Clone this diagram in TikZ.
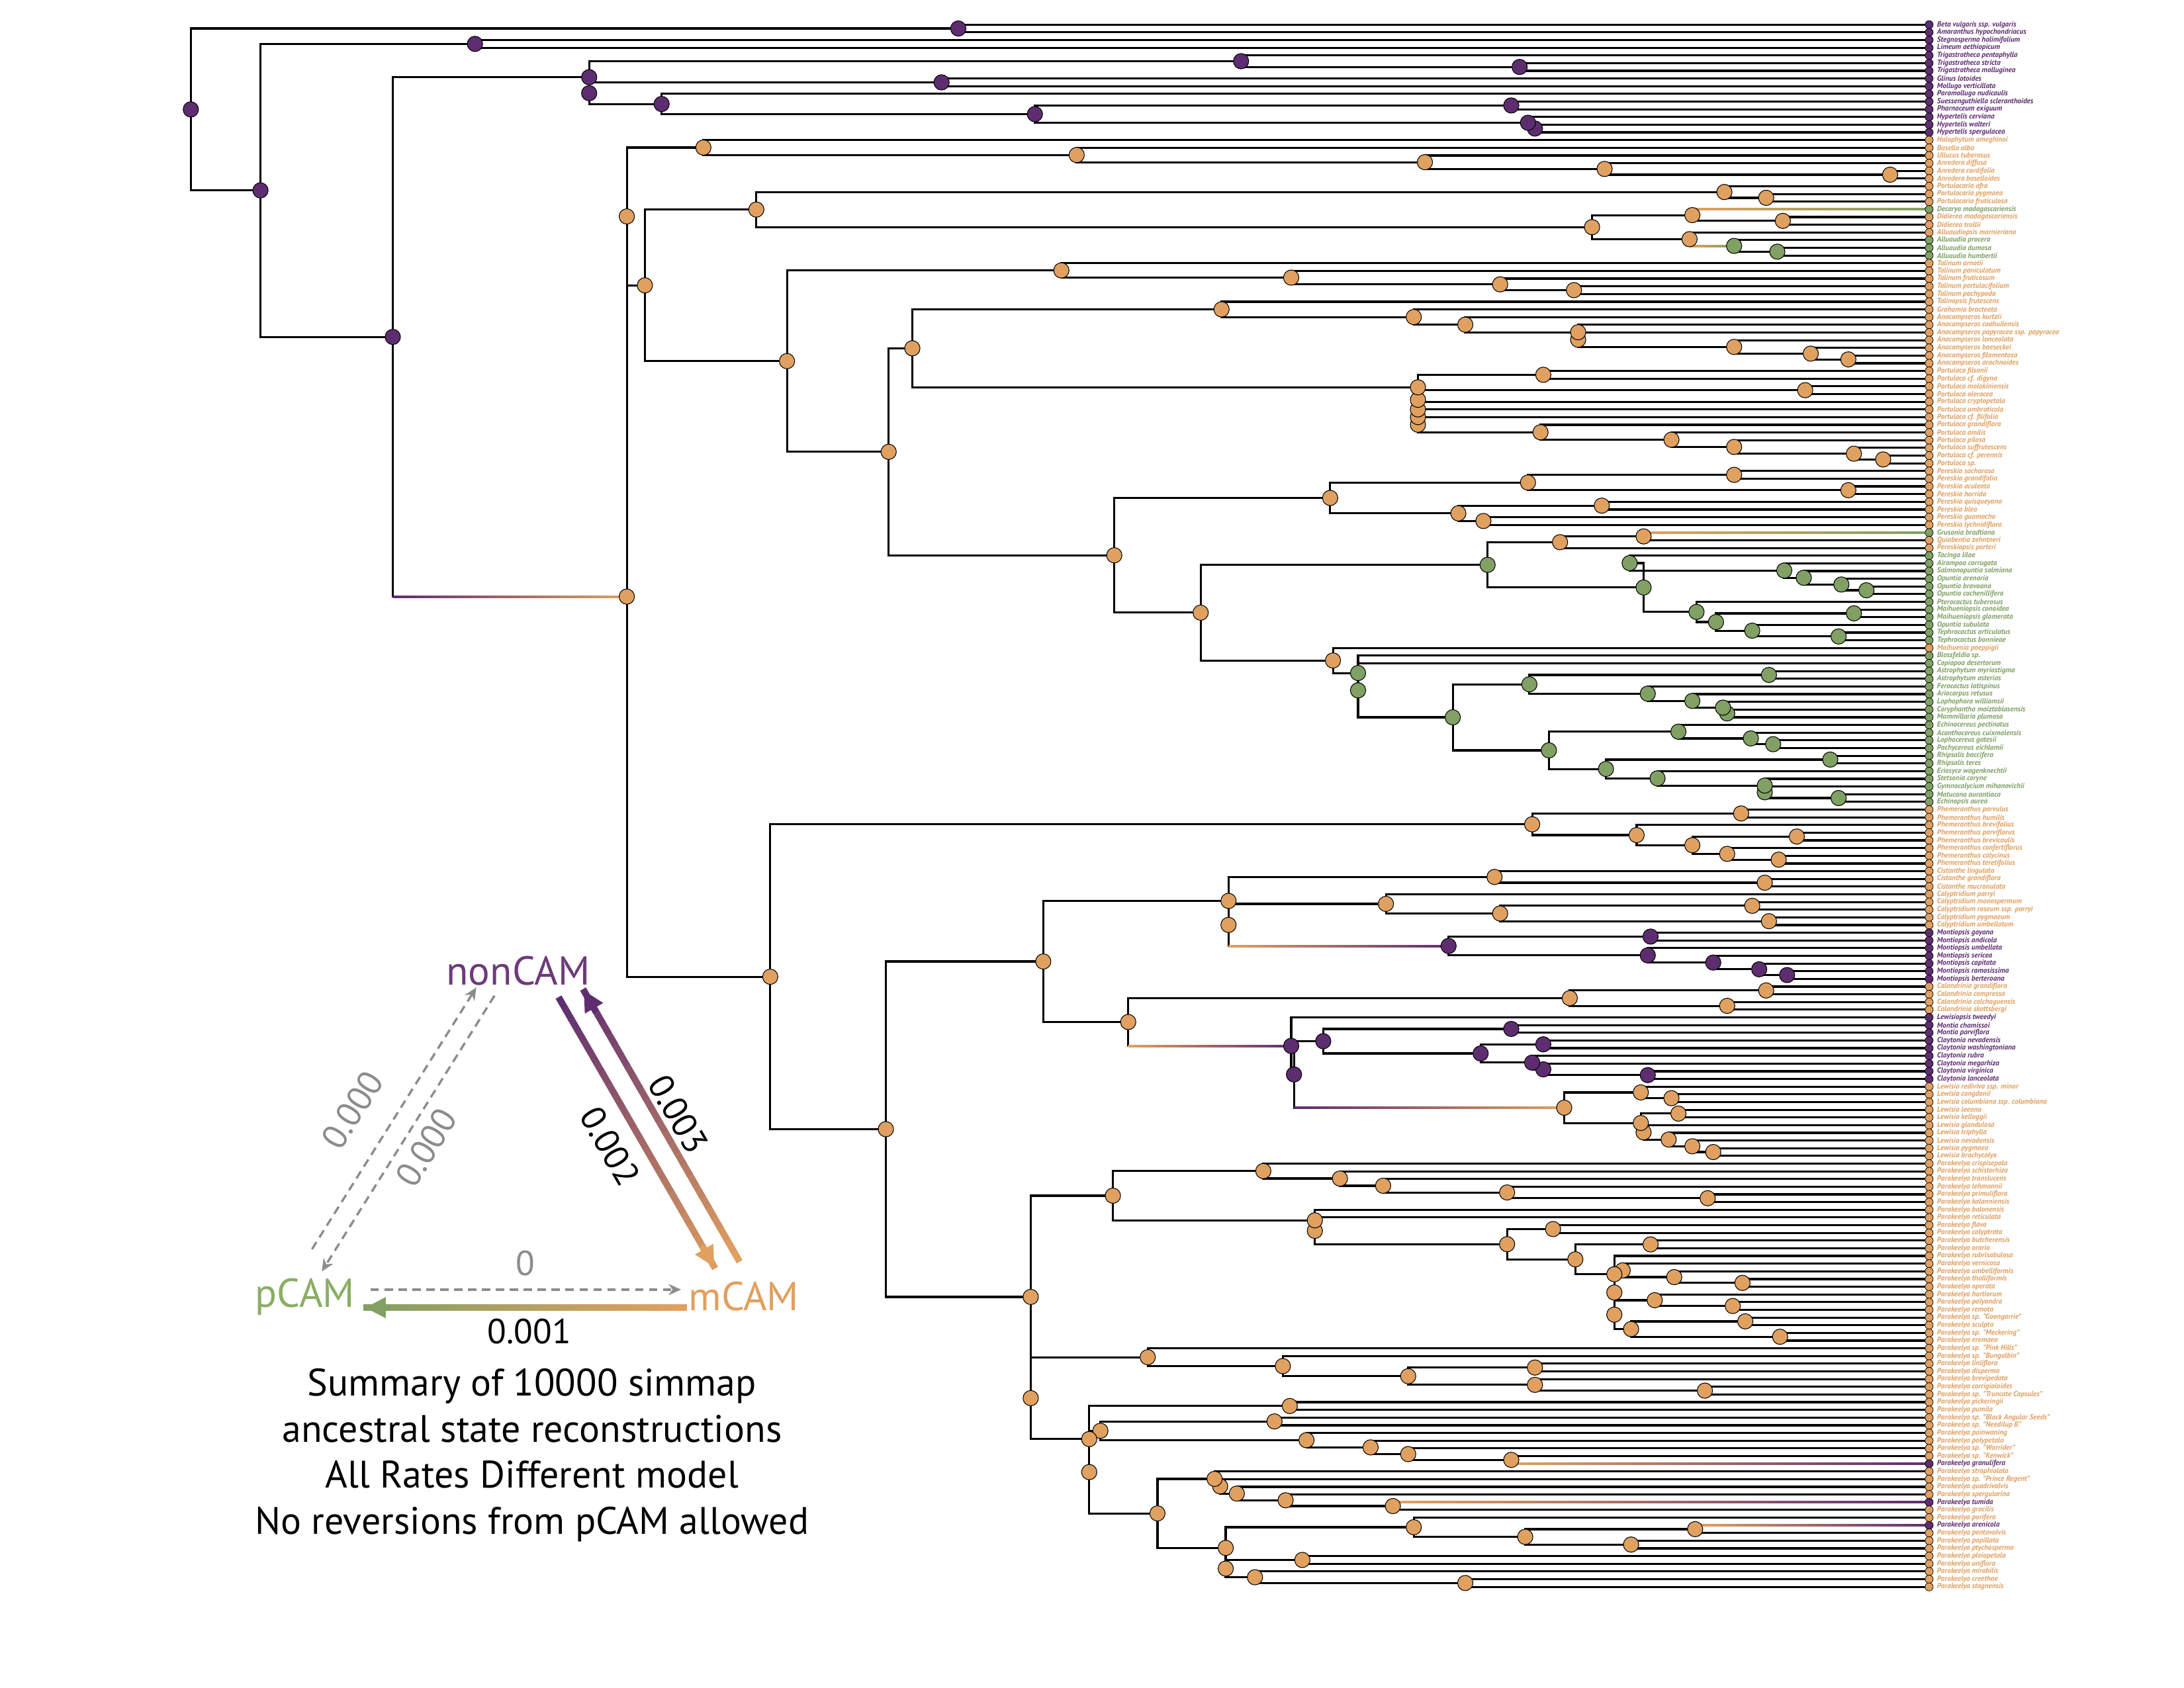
\documentclass[tikz,border=0pt]{standalone}
\usepackage{fontspec}
\setmainfont{PT Sans}
\usetikzlibrary{calc,arrows.meta}
\definecolor{cP}{HTML}{5E2D70}
\definecolor{cO}{HTML}{E0A060}
\definecolor{cG}{HTML}{80A064}
\definecolor{lnon}{HTML}{6E3A7A}
\definecolor{lp}{HTML}{8AAE64}
\definecolor{lm}{HTML}{E0A060}
\definecolor{dgray}{HTML}{8C8C8C}
\tikzset{
  br/.style={line width=1.5pt,black,line cap=rect},
  ndot/.style={circle,draw=black,line width=0.5pt,inner sep=0pt,minimum size=11pt},
  tdot/.style={circle,draw=black,line width=0.35pt,inner sep=0pt,minimum size=5.8pt},
  tiplab/.style={anchor=west,inner sep=0pt,font=\fontsize{5.3}{5.4}\selectfont\bfseries\itshape},
  leg/.style={font=\fontsize{29}{30}\selectfont},
  num/.style={font=\fontsize{25}{26}\selectfont},
  dsh/.style={dgray,line width=1.6pt,dash pattern=on 6pt off 4pt,-{Stealth[length=9pt,width=8pt]}},
}
\newcommand\dotlist{}
\newcommand\AddDot[1]{\expandafter\gdef\expandafter\dotlist\expandafter{\dotlist #1}}
\newcommand\Tip[3]{%
  \coordinate (t#1) at (1385,{17.7+5.526*(#1-1)});
  \node[tiplab,text=#2] at (1390.5,{17.7+5.526*(#1-1)}) {#3};
  \AddDot{\node[tdot,fill=#2] at (t#1) {};}}
\newcommand\Nd[5]{%
  \path let \p1=($(#3)!0.5!(#4)$) in coordinate (#1) at (#2pt,\y1);
  \draw[br] (#3 -| #1) -- (#3);
  \draw[br] (#4 -| #1) -- (#4);
  \draw[br] (#3 -| #1) -- (#4 -| #1);
  \AddDot{\node[ndot,fill=#5] at (#1) {};}}
\newcommand\Cb[4]{%
  \shade[left color=#3,right color=#4] let \p1=(#1), \p2=(#2) in (\x1,{\y2-0.75pt}) rectangle (\x2,{\y2+0.75pt});}
\newcommand\Grad[5]{%
  \foreach \i in {0,...,24}{%
    \pgfmathsetmacro\pa{\i/25}\pgfmathsetmacro\pb{(\i+1)/25+0.004}\pgfmathtruncatemacro\pc{100-4*\i}%
    \draw[line width=#5,color=#3!\pc!#4] ($(#1)!\pa!(#2)$) -- ($(#1)!\pb!(#2)$);}
  \draw[line width=#5,color=#4,-{Triangle[length=15pt,width=14pt]}] ($(#1)!0.92!(#2)$) -- (#2);}
\begin{document}
\begin{tikzpicture}[x=1pt,y=-1pt]
\useasboundingbox (0,0) rectangle (1568,1212);
\fill[white] (0,0) rectangle (1568,1212);
% ---------------- tips
\Tip{1}{cP}{Beta vulgaris ssp. vulgaris}
\Tip{2}{cP}{Amaranthus hypochondriacus}
\Tip{3}{cP}{Stegnosperma halimifolium}
\Tip{4}{cP}{Limeum aethiopicum}
\Tip{5}{cP}{Trigastrotheca pentaphylla}
\Tip{6}{cP}{Trigastrotheca stricta}
\Tip{7}{cP}{Trigastrotheca molluginea}
\Tip{8}{cP}{Glinus lotoides}
\Tip{9}{cP}{Mollugo verticillata}
\Tip{10}{cP}{Paramollugo nudicaulis}
\Tip{11}{cP}{Suessenguthiella scleranthoides}
\Tip{12}{cP}{Pharnaceum exiguum}
\Tip{13}{cP}{Hypertelis cerviana}
\Tip{14}{cP}{Hypertelis walteri}
\Tip{15}{cP}{Hypertelis spergulacea}
\Tip{16}{cO}{Halophytum ameghinoi}
\Tip{17}{cO}{Basella alba}
\Tip{18}{cO}{Ullucus tuberosus}
\Tip{19}{cO}{Anredera diffusa}
\Tip{20}{cO}{Anredera cordifolia}
\Tip{21}{cO}{Anredera baselloides}
\Tip{22}{cO}{Portulacaria afra}
\Tip{23}{cO}{Portulacaria pygmaea}
\Tip{24}{cO}{Portulacaria fruticulosa}
\Tip{25}{cG}{Decarya madagascariensis}
\Tip{26}{cO}{Didierea madagascariensis}
\Tip{27}{cO}{Didierea trollii}
\Tip{28}{cO}{Alluaudiopsis marnieriana}
\Tip{29}{cG}{Alluaudia procera}
\Tip{30}{cG}{Alluaudia dumosa}
\Tip{31}{cG}{Alluaudia humbertii}
\Tip{32}{cO}{Talinum arnotii}
\Tip{33}{cO}{Talinum paniculatum}
\Tip{34}{cO}{Talinum fruticosum}
\Tip{35}{cO}{Talinum portulacifolium}
\Tip{36}{cO}{Talinum pachypoda}
\Tip{37}{cO}{Talinopsis frutescens}
\Tip{38}{cO}{Grahamia bracteata}
\Tip{39}{cO}{Anacampseros kurtzii}
\Tip{40}{cO}{Anacampseros coahuilensis}
\Tip{41}{cO}{Anacampseros papyracea ssp. papyracea}
\Tip{42}{cO}{Anacampseros lanceolata}
\Tip{43}{cO}{Anacampseros baeseckei}
\Tip{44}{cO}{Anacampseros filamentosa}
\Tip{45}{cO}{Anacampseros arachnoides}
\Tip{46}{cO}{Portulaca filsonii}
\Tip{47}{cO}{Portulaca cf. digyna}
\Tip{48}{cO}{Portulaca molokiniensis}
\Tip{49}{cO}{Portulaca oleracea}
\Tip{50}{cO}{Portulaca cryptopetala}
\Tip{51}{cO}{Portulaca umbraticola}
\Tip{52}{cO}{Portulaca cf. filifolia}
\Tip{53}{cO}{Portulaca grandiflora}
\Tip{54}{cO}{Portulaca amilis}
\Tip{55}{cO}{Portulaca pilosa}
\Tip{56}{cO}{Portulaca suffrutescens}
\Tip{57}{cO}{Portulaca cf. perennis}
\Tip{58}{cO}{Portulaca sp.}
\Tip{59}{cO}{Pereskia sacharosa}
\Tip{60}{cO}{Pereskia grandifolia}
\Tip{61}{cO}{Pereskia aculeata}
\Tip{62}{cO}{Pereskia horrida}
\Tip{63}{cO}{Pereskia quisqueyana}
\Tip{64}{cO}{Pereskia bleo}
\Tip{65}{cO}{Pereskia guamacho}
\Tip{66}{cO}{Pereskia lychnidiflora}
\Tip{67}{cG}{Grusonia bradtiana}
\Tip{68}{cO}{Quiabentia zehntneri}
\Tip{69}{cO}{Pereskiopsis porteri}
\Tip{70}{cG}{Tacinga lilae}
\Tip{71}{cG}{Airampoa corrugata}
\Tip{72}{cG}{Salmonopuntia salmiana}
\Tip{73}{cG}{Opuntia arenaria}
\Tip{74}{cG}{Opuntia bravoana}
\Tip{75}{cG}{Opuntia cochenillifera}
\Tip{76}{cG}{Pterocactus tuberosus}
\Tip{77}{cG}{Maihueniopsis conoidea}
\Tip{78}{cG}{Maihueniopsis glomerata}
\Tip{79}{cG}{Opuntia subulata}
\Tip{80}{cG}{Tephrocactus articulatus}
\Tip{81}{cG}{Tephrocactus bonnieae}
\Tip{82}{cO}{Maihuenia poeppigii}
\Tip{83}{cG}{Blossfeldia sp.}
\Tip{84}{cG}{Copiapoa desertorum}
\Tip{85}{cG}{Astrophytum myriostigma}
\Tip{86}{cG}{Astrophytum asterias}
\Tip{87}{cG}{Ferocactus latispinus}
\Tip{88}{cG}{Ariocarpus retusus}
\Tip{89}{cG}{Lophophora williamsii}
\Tip{90}{cG}{Coryphantha maiztablasensis}
\Tip{91}{cG}{Mammillaria plumosa}
\Tip{92}{cG}{Echinocereus pectinatus}
\Tip{93}{cG}{Acanthocereus cuixmalensis}
\Tip{94}{cG}{Lophocereus gatesii}
\Tip{95}{cG}{Pachycereus eichlamii}
\Tip{96}{cG}{Rhipsalis baccifera}
\Tip{97}{cG}{Rhipsalis teres}
\Tip{98}{cG}{Eriosyce wagenknechtii}
\Tip{99}{cG}{Stetsonia coryne}
\Tip{100}{cG}{Gymnocalycium mihanovichii}
\Tip{101}{cG}{Matucana aurantiaca}
\Tip{102}{cG}{Echinopsis aurea}
\Tip{103}{cO}{Phemeranthus parvulus}
\Tip{104}{cO}{Phemeranthus humilis}
\Tip{105}{cO}{Phemeranthus brevifolius}
\Tip{106}{cO}{Phemeranthus parviflorus}
\Tip{107}{cO}{Phemeranthus brevicaulis}
\Tip{108}{cO}{Phemeranthus confertiflorus}
\Tip{109}{cO}{Phemeranthus calycinus}
\Tip{110}{cO}{Phemeranthus teretifolius}
\Tip{111}{cO}{Cistanthe lingulata}
\Tip{112}{cO}{Cistanthe grandiflora}
\Tip{113}{cO}{Cistanthe mucronulata}
\Tip{114}{cO}{Calyptridium parryi}
\Tip{115}{cO}{Calyptridium monospermum}
\Tip{116}{cO}{Calyptridium roseum ssp. parryi}
\Tip{117}{cO}{Calyptridium pygmaeum}
\Tip{118}{cO}{Calyptridium umbellatum}
\Tip{119}{cP}{Montiopsis gayana}
\Tip{120}{cP}{Montiopsis andicola}
\Tip{121}{cP}{Montiopsis umbellata}
\Tip{122}{cP}{Montiopsis sericea}
\Tip{123}{cP}{Montiopsis capitata}
\Tip{124}{cP}{Montiopsis ramosissima}
\Tip{125}{cP}{Montiopsis berteroana}
\Tip{126}{cO}{Calandrinia grandiflora}
\Tip{127}{cO}{Calandrinia compressa}
\Tip{128}{cO}{Calandrinia colchaguensis}
\Tip{129}{cO}{Calandrinia skottsbergi}
\Tip{130}{cP}{Lewisiopsis tweedyi}
\Tip{131}{cP}{Montia chamissoi}
\Tip{132}{cP}{Montia parviflora}
\Tip{133}{cP}{Claytonia nevadensis}
\Tip{134}{cP}{Claytonia washingtoniana}
\Tip{135}{cP}{Claytonia rubra}
\Tip{136}{cP}{Claytonia megarhiza}
\Tip{137}{cP}{Claytonia virginica}
\Tip{138}{cP}{Claytonia lanceolata}
\Tip{139}{cO}{Lewisia rediviva ssp. minor}
\Tip{140}{cO}{Lewisia congdonii}
\Tip{141}{cO}{Lewisia columbiana ssp. columbiana}
\Tip{142}{cO}{Lewisia leeana}
\Tip{143}{cO}{Lewisia kelloggii}
\Tip{144}{cO}{Lewisia glandulosa}
\Tip{145}{cO}{Lewisia triphylla}
\Tip{146}{cO}{Lewisia nevadensis}
\Tip{147}{cO}{Lewisia pygmaea}
\Tip{148}{cO}{Lewisia brachycalyx}
\Tip{149}{cO}{Parakeelya crispisepala}
\Tip{150}{cO}{Parakeelya schistorhiza}
\Tip{151}{cO}{Parakeelya translucens}
\Tip{152}{cO}{Parakeelya lehmannii}
\Tip{153}{cO}{Parakeelya primuliflora}
\Tip{154}{cO}{Parakeelya kalanniensis}
\Tip{155}{cO}{Parakeelya balonensis}
\Tip{156}{cO}{Parakeelya reticulata}
\Tip{157}{cO}{Parakeelya flava}
\Tip{158}{cO}{Parakeelya calyptrata}
\Tip{159}{cO}{Parakeelya butcherensis}
\Tip{160}{cO}{Parakeelya oraria}
\Tip{161}{cO}{Parakeelya rubrisabulosa}
\Tip{162}{cO}{Parakeelya vernicosa}
\Tip{163}{cO}{Parakeelya umbelliformis}
\Tip{164}{cO}{Parakeelya tholliformis}
\Tip{165}{cO}{Parakeelya operata}
\Tip{166}{cO}{Parakeelya hortiorum}
\Tip{167}{cO}{Parakeelya polyandra}
\Tip{168}{cO}{Parakeelya remota}
\Tip{169}{cO}{Parakeelya sp. "Goongarrie"}
\Tip{170}{cO}{Parakeelya sculpta}
\Tip{171}{cO}{Parakeelya sp. "Meckering"}
\Tip{172}{cO}{Parakeelya eremaea}
\Tip{173}{cO}{Parakeelya sp. "Pink Hills"}
\Tip{174}{cO}{Parakeelya sp. "Bungalbin"}
\Tip{175}{cO}{Parakeelya linliflora}
\Tip{176}{cO}{Parakeelya disperma}
\Tip{177}{cO}{Parakeelya brevipedata}
\Tip{178}{cO}{Parakeelya corrigioloides}
\Tip{179}{cO}{Parakeelya sp. "Truncate Capsules"}
\Tip{180}{cO}{Parakeelya pickeringii}
\Tip{181}{cO}{Parakeelya pumila}
\Tip{182}{cO}{Parakeelya sp. "Black Angular Seeds"}
\Tip{183}{cO}{Parakeelya sp. "Needilup B"}
\Tip{184}{cO}{Parakeelya painwaning}
\Tip{185}{cO}{Parakeelya polypetala}
\Tip{186}{cO}{Parakeelya sp. "Warrider"}
\Tip{187}{cO}{Parakeelya sp. "Kenwick"}
\Tip{188}{cP}{Parakeelya granulifera}
\Tip{189}{cO}{Parakeelya strophiolata}
\Tip{190}{cO}{Parakeelya sp. "Prince Regent"}
\Tip{191}{cO}{Parakeelya quadrivalvis}
\Tip{192}{cO}{Parakeelya spergularina}
\Tip{193}{cP}{Parakeelya tumida}
\Tip{194}{cO}{Parakeelya gracilis}
\Tip{195}{cO}{Parakeelya porifera}
\Tip{196}{cP}{Parakeelya arenicola}
\Tip{197}{cO}{Parakeelya pentavalvis}
\Tip{198}{cO}{Parakeelya papillata}
\Tip{199}{cO}{Parakeelya ptychosperma}
\Tip{200}{cO}{Parakeelya pleiopetala}
\Tip{201}{cO}{Parakeelya uniflora}
\Tip{202}{cO}{Parakeelya mirabilis}
\Tip{203}{cO}{Parakeelya creethae}
\Tip{204}{cO}{Parakeelya stagnensis}
% ---------------- outgroups
\Nd{nbeta}{688}{t1}{t2}{cP}
\Nd{nsteg}{341}{t3}{t4}{cP}
\Nd{ntrigB}{1091}{t6}{t7}{cP}
\Nd{ntrig}{891}{t5}{ntrigB}{cP}
\Nd{nglin}{676}{t8}{t9}{cP}
\Nd{nsp}{1085}{t11}{t12}{cP}
\Nd{nhypB}{1102}{t14}{t15}{cP}
\Nd{nhyp}{1097}{t13}{nhypB}{cP}
\Nd{nph}{743}{nsp}{nhyp}{cP}
\Nd{npm}{475}{t10}{nph}{cP}
\Nd{nmoB}{423}{nglin}{npm}{cP}
\Nd{nmo}{423}{ntrig}{nmoB}{cP}
% ---------------- Portulacineae upper
\Nd{bas4}{1357}{t20}{t21}{cO}
\Nd{bas3}{1152}{t19}{bas4}{cO}
\Nd{bas2}{1023}{t18}{bas3}{cO}
\Nd{bas}{773}{t17}{bas2}{cO}
\Nd{halo}{505}{t16}{bas}{cO}
\Nd{pcB}{1268}{t23}{t24}{cO}
\Nd{pca}{1238}{t22}{pcB}{cO}
\Nd{didB}{1280}{t26}{t27}{cO}
\Nd{dec}{1215}{t25}{didB}{cO}
\Nd{allB}{1276}{t30}{t31}{cG}
\Nd{all}{1245}{t29}{allB}{cG}
\Nd{alop}{1213}{t28}{all}{cO}
\Nd{did}{1143}{dec}{alop}{cO}
\Nd{pd}{543}{pca}{did}{cO}
\Nd{talD}{1130}{t35}{t36}{cO}
\Nd{talC}{1077}{t34}{talD}{cO}
\Nd{talB}{927}{t33}{talC}{cO}
\Nd{tal}{762}{t32}{talB}{cO}
\Nd{an6}{1327}{t44}{t45}{cO}
\Nd{an5}{1300}{t43}{an6}{cO}
\Nd{an4}{1245}{t42}{an5}{cO}
\Nd{an3}{1133}{t41}{an4}{cO}
\Nd{an2}{1133}{t40}{an3}{cO}
\Nd{an1}{1052}{t39}{an2}{cO}
\Nd{gra}{1015}{t38}{an1}{cO}
\Nd{ana}{877}{t37}{gra}{cO}
\Nd{p1}{1108}{t46}{t47}{cO}
\Nd{p2}{1296}{t48}{t49}{cO}
\Nd{pper}{1352}{t57}{t58}{cO}
\Nd{psuf}{1331}{t56}{pper}{cO}
\Nd{ppil}{1245}{t55}{psuf}{cO}
\Nd{pam}{1200}{t54}{ppil}{cO}
\Nd{pgr}{1106}{t53}{pam}{cO}
\Nd{pfil}{1018}{t52}{pgr}{cO}
\Nd{pumb}{1018}{t51}{pfil}{cO}
\Nd{pcry}{1018}{t50}{pumb}{cO}
\Nd{px}{1018}{p2}{pcry}{cO}
\Nd{proot}{1018}{p1}{px}{cO}
\Nd{nap}{655}{ana}{proot}{cO}
% cacti
\Nd{c1}{1245}{t59}{t60}{cO}
\Nd{c2}{1327}{t61}{t62}{cO}
\Nd{c3}{1097}{c1}{c2}{cO}
\Nd{c4}{1150}{t63}{t64}{cO}
\Nd{c5}{1065}{t65}{t66}{cO}
\Nd{c6}{1047}{c4}{c5}{cO}
\Nd{c7}{955}{c3}{c6}{cO}
\Nd{ocyl}{1180}{t67}{t68}{cO}
\Nd{ocylB}{1120}{ocyl}{t69}{cO}
\Nd{op1}{1340}{t74}{t75}{cG}
\Nd{op2}{1322}{t73}{op1}{cG}
\Nd{op3}{1295}{t72}{op2}{cG}
\Nd{op4}{1281}{t71}{op3}{cG}
\Nd{op5}{1170}{t70}{op4}{cG}
\Nd{te1}{1331}{t77}{t78}{cG}
\Nd{te2}{1320}{t80}{t81}{cG}
\Nd{te3}{1258}{t79}{te2}{cG}
\Nd{te4}{1232}{te1}{te3}{cG}
\Nd{te5}{1218}{t76}{te4}{cG}
\Nd{opte}{1180}{op5}{te5}{cG}
\Nd{opu}{1068}{ocylB}{opte}{cG}
\Nd{ca1}{1270}{t85}{t86}{cG}
\Nd{ca3}{1240}{t90}{t91}{cG}
\Nd{ca2}{1237}{t89}{ca3}{cG}
\Nd{ca4}{1215}{t88}{ca2}{cG}
\Nd{ca5}{1183}{t87}{ca4}{cG}
\Nd{ca6}{1098}{ca1}{ca5}{cG}
\Nd{b1}{1273}{t94}{t95}{cG}
\Nd{b2}{1257}{t93}{b1}{cG}
\Nd{b3}{1205}{t92}{b2}{cG}
\Nd{b4}{1314}{t96}{t97}{cG}
\Nd{b5}{1320}{t101}{t102}{cG}
\Nd{b6}{1267}{t100}{b5}{cG}
\Nd{b7}{1267}{t99}{b6}{cG}
\Nd{b8}{1190}{t98}{b7}{cG}
\Nd{b9}{1153}{b4}{b8}{cG}
\Nd{b10}{1112}{b3}{b9}{cG}
\Nd{cR2}{1043}{ca6}{b10}{cG}
\Nd{cR}{975}{t84}{cR2}{cG}
\Nd{cC}{975}{t83}{cR}{cG}
\Nd{Mh}{957}{t82}{cC}{cO}
\Nd{cB}{862}{opu}{Mh}{cO}
\Nd{cA}{800}{c7}{cB}{cO}
\Nd{nPC}{638}{nap}{cA}{cO}
\Nd{nTP}{565}{tal}{nPC}{cO}
\Nd{nDT}{463}{pd}{nTP}{cO}
\Nd{nUp}{450}{halo}{nDT}{cO}
% ---------------- lower half
\Nd{ph0}{1250}{t103}{t104}{cO}
\Nd{ph1}{1290}{t106}{t107}{cO}
\Nd{ph2}{1277}{t109}{t110}{cO}
\Nd{ph3}{1240}{t108}{ph2}{cO}
\Nd{ph4}{1215}{ph1}{ph3}{cO}
\Nd{ph5}{1175}{t105}{ph4}{cO}
\Nd{ph7}{1100}{ph0}{ph5}{cO}
\Nd{ci1}{1267}{t112}{t113}{cO}
\Nd{ci2}{1073}{t111}{ci1}{cO}
\Nd{cy1}{1258}{t115}{t116}{cO}
\Nd{cy2}{1270}{t117}{t118}{cO}
\Nd{cy3}{1077}{cy1}{cy2}{cO}
\Nd{cy4}{995}{t114}{cy3}{cO}
\Nd{mo1}{1185}{t119}{t120}{cP}
\Nd{mo2}{1283}{t124}{t125}{cP}
\Nd{mo3}{1263}{t123}{mo2}{cP}
\Nd{mo4}{1230}{t122}{mo3}{cP}
\Nd{mo5}{1183}{t121}{mo4}{cP}
\Nd{mo6}{1040}{mo1}{mo5}{cP}
\Nd{cm}{882}{cy4}{mo6}{cO}
\Nd{ccm}{882}{ci2}{cm}{cO}
\Nd{cl1}{1268}{t126}{t127}{cO}
\Nd{cl2}{1240}{t128}{t129}{cO}
\Nd{cl3}{1127}{cl1}{cl2}{cO}
\Nd{mt1}{1085}{t131}{t132}{cP}
\Nd{cya}{1108}{t133}{t134}{cP}
\Nd{cyb}{1183}{t137}{t138}{cP}
\Nd{cyc}{1108}{t136}{cyb}{cP}
\Nd{cyd}{1100}{t135}{cyc}{cP}
\Nd{cye}{1063}{cya}{cyd}{cP}
\Nd{mcl}{950}{mt1}{cye}{cP}
\Nd{lea}{1230}{t147}{t148}{cO}
\Nd{leb}{1215}{t146}{lea}{cO}
\Nd{lec}{1198}{t145}{leb}{cO}
\Nd{led}{1180}{t144}{lec}{cO}
\Nd{lee}{1205}{t142}{t143}{cO}
\Nd{lef}{1178}{lee}{led}{cO}
\Nd{leg}{1200}{t140}{t141}{cO}
\Nd{leh}{1178}{t139}{leg}{cO}
\Nd{leroot}{1123}{leh}{lef}{cO}
\Nd{ml}{929}{mcl}{leroot}{cP}
\Nd{mtr}{927}{t130}{ml}{cP}
\Nd{clm}{810}{cl3}{mtr}{cO}
\Nd{mid}{749}{ccm}{clm}{cO}
% Parakeelya
\Nd{ka}{1226}{t153}{t154}{cO}
\Nd{kb}{1082}{t152}{ka}{cO}
\Nd{kc}{993}{t151}{kb}{cO}
\Nd{kd}{962}{t150}{kc}{cO}
\Nd{ke}{907}{t149}{kd}{cO}
\Nd{kf1}{1115}{t157}{t158}{cO}
\Nd{kf2}{1185}{t159}{t160}{cO}
\Nd{kg1}{1251}{t164}{t165}{cO}
\Nd{kg2}{1202}{t163}{kg1}{cO}
\Nd{kg3}{1165}{t162}{kg2}{cO}
\Nd{kh1}{1244}{t167}{t168}{cO}
\Nd{kh2}{1188}{t166}{kh1}{cO}
\Nd{ki1}{1253}{t169}{t170}{cO}
\Nd{ki2}{1278}{t171}{t172}{cO}
\Nd{ki3}{1171}{ki1}{ki2}{cO}
\Nd{kj1}{1159}{kh2}{ki3}{cO}
\Nd{kj2}{1159}{kg3}{kj1}{cO}
\Nd{kj3}{1159}{t161}{kj2}{cO}
\Nd{kk}{1131}{kf2}{kj3}{cO}
\Nd{kl}{1082}{kf1}{kk}{cO}
\Nd{km}{944}{t156}{kl}{cO}
\Nd{kn}{944}{t155}{km}{cO}
\Nd{pv}{799}{ke}{kn}{cO}
\Nd{la1}{1224}{t178}{t179}{cO}
\Nd{la2}{1102}{t177}{la1}{cO}
\Nd{la3}{1102}{t175}{t176}{cO}
\Nd{la4}{1011}{la3}{la2}{cO}
\Nd{la5}{921}{t174}{la4}{cO}
\Nd{la6}{824}{t173}{la5}{cO}
\Nd{lb1}{926}{t180}{t181}{cO}
\Nd{lb2}{915}{t182}{t183}{cO}
\Nd{lb3}{1085}{t187}{t188}{cO}
\Nd{lb4}{1011}{t186}{lb3}{cO}
\Nd{lb5}{984}{t185}{lb4}{cO}
\Nd{lb6}{938}{t184}{lb5}{cO}
\Nd{lb7}{790}{lb2}{lb6}{cO}
\Nd{lc1}{1000}{t193}{t194}{cO}
\Nd{lc2}{923}{t192}{lc1}{cO}
\Nd{lc3}{888}{t191}{lc2}{cO}
\Nd{lc4}{876}{t190}{lc3}{cO}
\Nd{lc5}{872}{t189}{lc4}{cO}
\Nd{ld1}{1217}{t196}{t197}{cO}
\Nd{ld2}{1171}{t198}{t199}{cO}
\Nd{ld3}{1095}{ld1}{ld2}{cO}
\Nd{ld4}{1015}{t195}{ld3}{cO}
\Nd{ld5}{935}{t200}{t201}{cO}
\Nd{ld6}{1052}{t203}{t204}{cO}
\Nd{ld7}{901}{t202}{ld6}{cO}
\Nd{ld8}{880}{ld5}{ld7}{cO}
\Nd{ld9}{880}{ld4}{ld8}{cO}
\Nd{le1}{831}{lc5}{ld9}{cO}
\Nd{lf1}{782}{lb7}{le1}{cO}
\Nd{lf2}{782}{lb1}{lf1}{cO}
\Nd{pbot}{740}{la6}{lf2}{cO}
\Nd{pkroot}{740}{pv}{pbot}{cO}
\Nd{lowmid}{636}{mid}{pkroot}{cO}
\Nd{lower}{553}{ph7}{lowmid}{cO}
\Nd{npor}{450}{nUp}{lower}{cO}
% ---------------- deep nodes
\Nd{nA2}{282}{nmo}{npor}{cP}
\Nd{nA}{187}{nsteg}{nA2}{cP}
\Nd{root}{137}{nbeta}{nA}{cP}
% ---------------- coloured branches
\Cb{nA2}{npor}{cP}{cO}
\Cb{dec}{t25}{cO}{cG}
\Cb{alop}{all}{cO}{cG}
\Cb{ocyl}{t67}{cO}{cG}
\Cb{cm}{mo6}{cO}{cP}
\Cb{clm}{mtr}{cO}{cP}
\Cb{ml}{leroot}{cP}{cO}
\Cb{lb3}{t188}{cO}{cP}
\Cb{lc1}{t193}{cO}{cP}
\Cb{ld1}{t196}{cO}{cP}
% ---------------- dots on top
\dotlist
% ---------------- legend
\node[leg,text=lnon] (non) at (372,697) {nonCAM};
\node[leg,text=lp] (pcam) at (219,931) {pCAM};
\node[leg,text=lm] (mcam) at (534,931) {mCAM};
\coordinate (d1a) at (224,897); \coordinate (d1b) at (342,709);
\coordinate (d2a) at (355,715); \coordinate (d2b) at (231,913);
\draw[dsh] (d1a) -- (d1b);
\draw[dsh] (d2a) -- (d2b);
\node[num,text=dgray,rotate=58] at (253,797) {0.000};
\node[num,text=dgray,rotate=58] at (306,824) {0.000};
\coordinate (s1a) at (401,716); \coordinate (s1b) at (513,910);
\coordinate (s2a) at (531,906); \coordinate (s2b) at (419,711);
\Grad{s1a}{s1b}{cP}{cO}{4.8pt}
\Grad{s2a}{s2b}{cO}{cP}{4.8pt}
\node[num,rotate=-60] at (438,823) {0.002};
\node[num,rotate=-60] at (487,800) {0.003};
\coordinate (d3a) at (266,926); \coordinate (d3b) at (489,926);
\draw[dsh] (d3a) -- (d3b);
\node[num,text=dgray] at (377,907) {0};
\coordinate (s3a) at (493,939); \coordinate (s3b) at (262,939);
\Grad{s3a}{s3b}{cO}{cG}{4.8pt}
\node[num] at (380,956) {0.001};
\node[align=center,font=\fontsize{27.5}{33}\selectfont] (summ) at (382,1045) {Summary of 10000 simmap\\ancestral state reconstructions\\All Rates Different model\\No reversions from pCAM allowed};
\end{tikzpicture}
\end{document}
